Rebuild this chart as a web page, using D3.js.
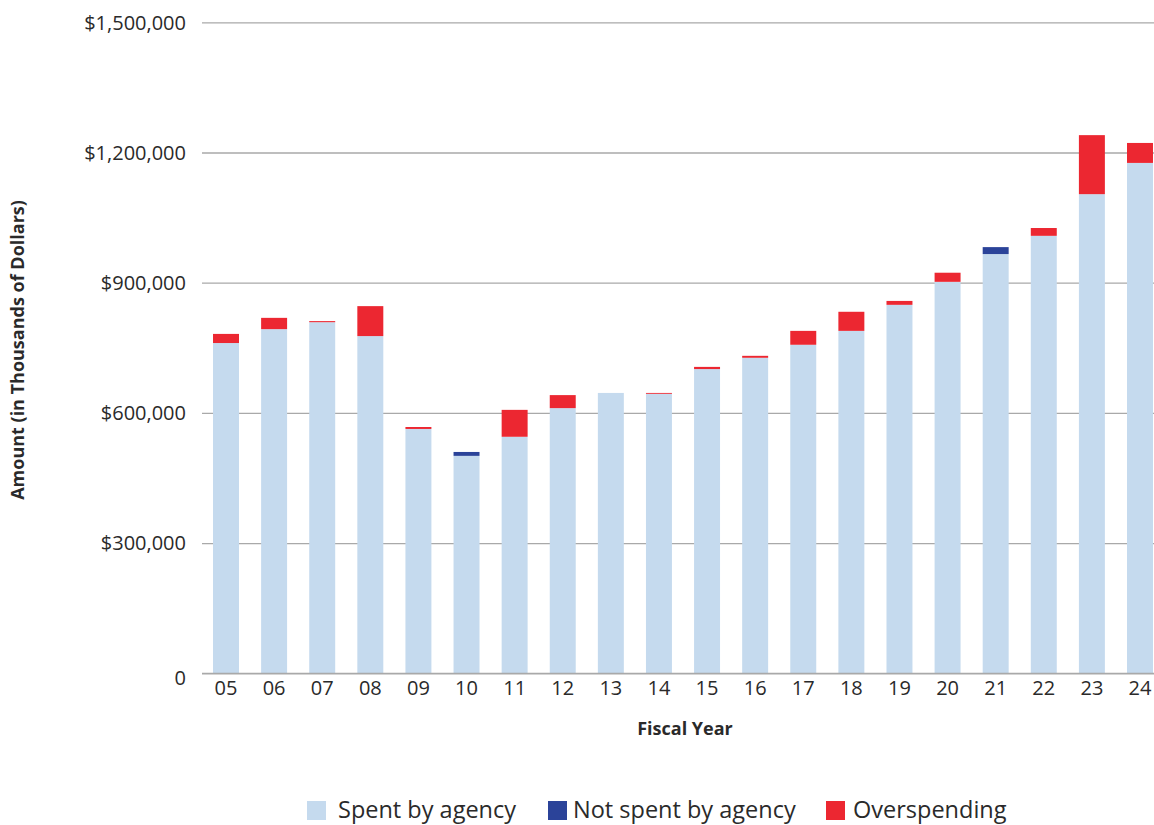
<!DOCTYPE html>
<html>
<head>
<meta charset="utf-8">
<script src="https://cdn.jsdelivr.net/npm/d3@7"></script>
<style>
  html, body { margin: 0; padding: 0; background: #fff; overflow: hidden; }
  svg { display: block; }
  text { font-family: "Open Sans", "Noto Sans", sans-serif; fill: #2a2a2a; }
</style>
</head>
<body>
<svg id="chart" width="1154" height="825"></svg>
<script>
// Fiscal years and amounts (in thousands of dollars)
const years = ["05","06","07","08","09","10","11","12","13","14","15","16","17","18","19","20","21","22","23","24"];
const spentByAgency    = [761, 793, 809, 777, 563, 501, 545, 611, 646, 644, 701, 727, 757, 789, 849, 902, 966, 1008, 1104, 1176].map(v => v * 1000);
const notSpentByAgency = [0, 0, 0, 0, 0, 9, 0, 0, 0, 0, 0, 0, 0, 0, 0, 0, 16, 0, 0, 0].map(v => v * 1000);
const overspending     = [21, 26, 2.5, 69, 4.5, 0, 62, 30, 0, 2, 5, 4.5, 32, 44, 9, 21, 0, 18, 136, 46].map(v => v * 1000);
const yTicks = [0, 300000, 600000, 900000, 1200000, 1500000];

const seriesKeys = ["spent", "notSpent", "over"];
const seriesLabels = ["Spent by agency", "Not spent by agency", "Overspending"];
const seriesColors = ["#c5daee", "#2b4399", "#ec2731"];

const rows = years.map((yr, i) => ({
  year: yr,
  spent: spentByAgency[i],
  notSpent: notSpentByAgency[i],
  over: overspending[i]
}));

const svg = d3.select("#chart");
const plotLeft = 202, plotRight = 1154;
const y0 = 673.3, y1 = 22.3;

const y = d3.scaleLinear().domain([0, 1500000]).range([y0, y1]);
const x = d3.scaleBand()
  .domain(years)
  .range([plotLeft, 1164])
  .paddingInner(0.46)
  .paddingOuter(0.229);

// Gridlines and y tick labels
const yAxis = d3.axisLeft(y)
  .tickValues(yTicks)
  .tickSize(-(plotRight - plotLeft))
  .tickPadding(16)
  .tickFormat(d => d === 0 ? "0" : "$" + d3.format(",")(d));

const gy = svg.append("g")
  .attr("transform", `translate(${plotLeft},0)`)
  .call(yAxis);
gy.select(".domain").remove();
gy.selectAll(".tick line").attr("stroke", "#a9a9a9").attr("stroke-width", 1.3);
gy.selectAll(".tick text")
  .attr("font-size", 20)
  .attr("fill", "#2a2a2a")
  .attr("dy", d => d === 0 ? "0.58em" : "0.34em");

// Stacked bars
const stacked = d3.stack().keys(seriesKeys)(rows);
svg.append("g")
  .selectAll("g")
  .data(stacked)
  .join("g")
  .attr("fill", (d, i) => seriesColors[i])
  .selectAll("rect")
  .data(d => d)
  .join("rect")
  .attr("x", d => x(d.data.year))
  .attr("width", x.bandwidth())
  .attr("y", d => y(d[1]))
  .attr("height", d => Math.max(0, y(d[0]) - y(d[1])));

// Baseline
svg.append("line")
  .attr("x1", plotLeft).attr("x2", plotRight)
  .attr("y1", y(0)).attr("y2", y(0))
  .attr("stroke", "#a9a9a9").attr("stroke-width", 1.3);

// X axis labels
const xAxis = d3.axisBottom(x).tickSize(0).tickPadding(8);
const gx = svg.append("g")
  .attr("transform", `translate(0,${y0})`)
  .call(xAxis);
gx.select(".domain").remove();
gx.selectAll(".tick text").attr("font-size", 20).attr("fill", "#2a2a2a");

// Axis titles
svg.append("text")
  .attr("x", 685).attr("y", 735)
  .attr("text-anchor", "middle")
  .attr("font-size", 18).attr("font-weight", "bold")
  .text("Fiscal Year");

svg.append("text")
  .attr("transform", "translate(24,350) rotate(-90)")
  .attr("text-anchor", "middle")
  .attr("font-size", 18).attr("font-weight", "bold")
  .text("Amount (in Thousands of Dollars)");

// Legend
const legendSwatchX = [307, 548, 826];
const legendTextX = [338, 573, 853];
const legend = svg.append("g");
seriesLabels.forEach((label, i) => {
  legend.append("rect")
    .attr("x", legendSwatchX[i]).attr("y", 801)
    .attr("width", 19).attr("height", 19)
    .attr("fill", seriesColors[i]);
  legend.append("text")
    .attr("x", legendTextX[i]).attr("y", 818)
    .attr("font-size", 23.5)
    .text(label);
});
</script>
</body>
</html>
